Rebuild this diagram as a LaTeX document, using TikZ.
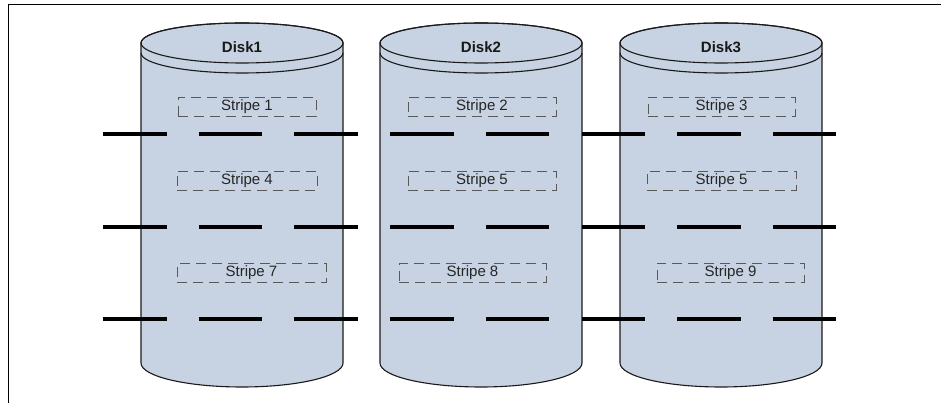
\documentclass[tikz,border=0pt]{standalone}
\usepackage{fontspec}
\setmainfont{Liberation Sans}

\newcommand{\cilindrodisco}[2]{%
\begin{scope}[shift={(#1,0)},line join=round]
  \path[fill=discoFondo,draw=discoBordo,line width=1.1pt]
    (0,43) -- (0,363) arc[start angle=180,end angle=0,x radius=101,y radius=24]
    -- (202,43) arc[start angle=0,end angle=-180,x radius=101,y radius=20] -- cycle;
  % Coperchio: ellisse intera e bordo ribassato.
  \draw[discoBordo,line width=1.1pt] (101,43) ellipse[x radius=101,y radius=20];
  \draw[discoBordo,line width=1.1pt]
    (0,53) arc[start angle=180,end angle=0,x radius=101,y radius=20];
  \node[etichettaDisco] (disco#2) at (101,47) {Disk#2};
\end{scope}}

\begin{document}
\begin{tikzpicture}[x=1pt,y=-1pt,
    etichettaDisco/.style={font=\fontsize{15}{18}\selectfont\bfseries,text=black!90},
    striscia/.style={draw=black!65,dash pattern=on 10pt off 6pt,line width=.8pt,
      inner sep=0pt,minimum height=19pt,font=\fontsize{15}{18}\selectfont,text=black!85},
    riga/.style={line width=4pt,dash pattern=on 63.5pt off 32.2pt}]
  \definecolor{discoFondo}{HTML}{C7D3E2}
  \definecolor{discoBordo}{HTML}{1A1A1A}
  \useasboundingbox (0,0) rectangle (941,403);

  % Cornice: solo lato sinistro e lato superiore.
  \draw[line width=1pt] (8,403) -- (8,5) -- (941,5);

  \foreach \xx/\nn in {141/1,380/2,620/3}{
    \cilindrodisco{\xx}{\nn}
  }

  % Strisce tratteggiate dentro i dischi.
  \foreach \nome/\testo/\cx/\cy/\lw in {s1/Stripe 1/247/106.5/138,
      s2/Stripe 2/482/106.5/148, s3/Stripe 3/721.5/106.5/147,
      s4/Stripe 4/247/180.5/140, s5/Stripe 5/482/180.5/148,
      s6/Stripe 5/721.5/180.5/149, s7/Stripe 7/251.5/273/149,
      s8/Stripe 8/472.5/273/147, s9/Stripe 9/730.5/272.5/147}{
    \node[striscia,minimum width=\lw pt] (\nome) at (\cx,\cy) {\testo};
  }

  % Righe spesse che attraversano i tre dischi.
  \foreach \yy in {134,226.7,319.3}{
    \draw[riga] (103,\yy) -- (838,\yy);
  }
\end{tikzpicture}
\end{document}
